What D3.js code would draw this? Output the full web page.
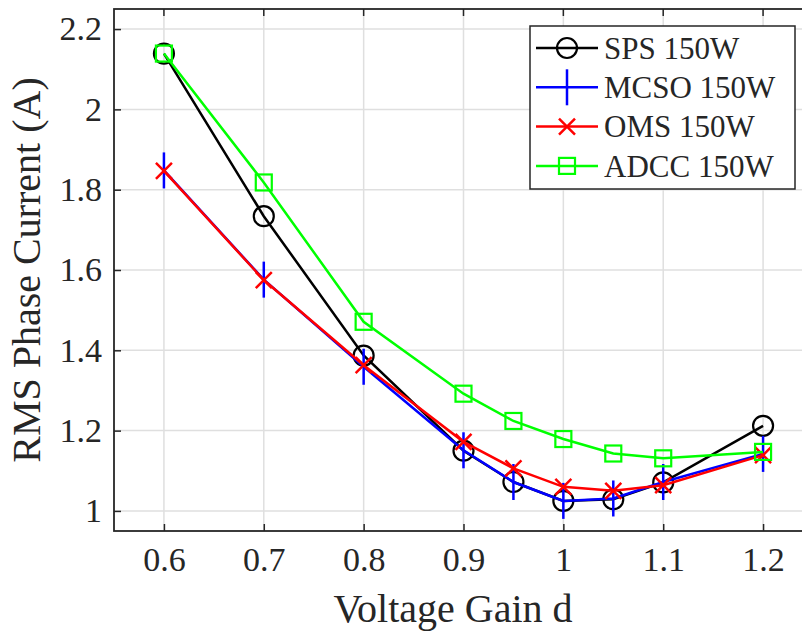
<!DOCTYPE html>
<html>
<head>
<meta charset="utf-8">
<script src="https://cdn.jsdelivr.net/npm/d3@7"></script>
<style>
  html, body { margin: 0; padding: 0; background: #fff; overflow: hidden; }
  text { font-family: "Liberation Serif", "Times New Roman", serif; fill: #262626; }
</style>
</head>
<body>
<div id="chart"></div>
<script>
// voltage gain values (x) and measured rms phase current per method
const gain = [0.6, 0.7, 0.8, 0.9, 0.95, 1.0, 1.05, 1.1, 1.2];
const sps  = [2.139, 1.734, 1.387, 1.150, 1.072, 1.025, 1.029, 1.071, 1.212];
const mcso = [1.848, 1.576, 1.359, 1.151, 1.072, 1.025, 1.031, 1.072, 1.142];
const oms  = [1.847, 1.575, 1.363, 1.172, 1.106, 1.060, 1.050, 1.064, 1.139];
const adcc = [2.139, 1.818, 1.471, 1.292, 1.224, 1.179, 1.143, 1.131, 1.147];

const xTicks = [0.6, 0.7, 0.8, 0.9, 1, 1.1, 1.2];
const yTicks = [1, 1.2, 1.4, 1.6, 1.8, 2, 2.2];

const series = [
  { name: 'SPS 150W',  vals: sps,  color: '#000000', marker: 'circle' },
  { name: 'MCSO 150W', vals: mcso, color: '#0000ff', marker: 'plus' },
  { name: 'OMS 150W',  vals: oms,  color: '#ff0000', marker: 'cross' },
  { name: 'ADCC 150W', vals: adcc, color: '#00ff00', marker: 'square' }
];

const svgWidth = 802, svgHeight = 635;
const margin = { left: 114, top: 9, right: 802 - 813, bottom: 635 - 531 };

const svg = d3.select('#chart').append('svg')
    .attr('width', svgWidth)
    .attr('height', svgHeight);

const xScale = d3.scaleLinear().domain([0.55, 1.25]).range([margin.left, svgWidth - margin.right]);
const yScale = d3.scaleLinear().domain([0.95, 2.25]).range([svgHeight - margin.bottom, margin.top]);

const x0 = xScale.range()[0], x1 = xScale.range()[1];
const y0 = yScale.range()[0], y1 = yScale.range()[1];
const axisColor = '#262626';

// grid lines
svg.append('g').selectAll('line.gx')
    .data(xTicks).enter().append('line')
    .attr('x1', d => xScale(d)).attr('x2', d => xScale(d))
    .attr('y1', y1).attr('y2', y0)
    .attr('stroke', '#dfdfdf').attr('stroke-width', 1.5);
svg.append('g').selectAll('line.gy')
    .data(yTicks).enter().append('line')
    .attr('x1', x0).attr('x2', x1)
    .attr('y1', d => yScale(d)).attr('y2', d => yScale(d))
    .attr('stroke', '#dfdfdf').attr('stroke-width', 1.5);

// axes (ticks pointing inwards like matlab)
const xAxis = d3.axisBottom(xScale).tickValues(xTicks).tickSize(-7).tickPadding(16)
    .tickFormat(d => d3.format('')(+d.toFixed(2)));
const yAxis = d3.axisLeft(yScale).tickValues(yTicks).tickSize(-7).tickPadding(12)
    .tickFormat(d => d3.format('')(+d.toFixed(2)));

const gx = svg.append('g').attr('transform', `translate(0,${y0})`).call(xAxis);
const gy = svg.append('g').attr('transform', `translate(${x0},0)`).call(yAxis);
[gx, gy].forEach(g => {
  g.select('.domain').remove();
  g.selectAll('.tick line').attr('stroke', axisColor).attr('stroke-width', 1.5);
  g.selectAll('.tick text').style('font-size', '34px')
      .style('font-family', '"Liberation Serif", serif').attr('fill', axisColor);
});
gx.selectAll('.tick text').attr('dy', '0.71em');

// top tick marks
svg.append('g').selectAll('line')
    .data(xTicks).enter().append('line')
    .attr('x1', d => xScale(d)).attr('x2', d => xScale(d))
    .attr('y1', y1).attr('y2', y1 + 7)
    .attr('stroke', axisColor).attr('stroke-width', 1.5);

// box
svg.append('rect')
    .attr('x', x0).attr('y', y1)
    .attr('width', x1 - x0).attr('height', y0 - y1)
    .attr('fill', 'none').attr('stroke', axisColor).attr('stroke-width', 1.8);

function drawMarker(g, type, cx, cy, color) {
  if (type === 'circle') {
    g.append('circle').attr('cx', cx).attr('cy', cy).attr('r', 10)
        .attr('fill', 'none').attr('stroke', color).attr('stroke-width', 2.2);
  } else if (type === 'square') {
    g.append('rect').attr('x', cx - 8).attr('y', cy - 8).attr('width', 16).attr('height', 16)
        .attr('fill', 'none').attr('stroke', color).attr('stroke-width', 2.2);
  } else if (type === 'plus') {
    g.append('path').attr('d', `M${cx},${cy - 18}V${cy + 18}M${cx - 18},${cy}H${cx + 18}`)
        .attr('stroke', color).attr('stroke-width', 2.5);
  } else if (type === 'cross') {
    g.append('path').attr('d', `M${cx - 8},${cy - 8}L${cx + 8},${cy + 8}M${cx - 8},${cy + 8}L${cx + 8},${cy - 8}`)
        .attr('stroke', color).attr('stroke-width', 2.5);
  }
}

const line = d3.line().x(d => xScale(d[0])).y(d => yScale(d[1]));

series.forEach(s => {
  const pts = gain.map((g, i) => [g, s.vals[i]]);
  const g = svg.append('g');
  g.append('path').datum(pts).attr('d', line)
      .attr('fill', 'none').attr('stroke', s.color).attr('stroke-width', 2.5);
  pts.forEach(p => {
    if (s.marker === 'plus') {
      // matlab '+' drawn with a short horizontal part hidden under the line
      g.append('path').attr('d', `M${xScale(p[0])},${yScale(p[1]) - 18}V${yScale(p[1]) + 18}`)
          .attr('stroke', s.color).attr('stroke-width', 2.5);
    } else {
      drawMarker(g, s.marker, xScale(p[0]), yScale(p[1]), s.color);
    }
  });
});

// legend
const legend = svg.append('g');
legend.append('rect')
    .attr('x', 530).attr('y', 26).attr('width', 265).attr('height', 163)
    .attr('fill', '#fff').attr('stroke', axisColor).attr('stroke-width', 1.5);
series.forEach((s, i) => {
  const ly = 48 + i * 39.3;
  legend.append('line').attr('x1', 536).attr('x2', 598).attr('y1', ly).attr('y2', ly)
      .attr('stroke', s.color).attr('stroke-width', 2.5);
  if (s.marker === 'plus') {
    legend.append('path').attr('d', `M567,${ly - 18}V${ly + 18}`)
        .attr('stroke', s.color).attr('stroke-width', 2.5);
  } else {
    drawMarker(legend, s.marker, 567, ly, s.color);
  }
  legend.append('text').attr('x', 604).attr('y', ly).attr('dy', '0.35em')
      .style('font-size', '31px').text(s.name);
});

// axis labels
svg.append('text')
    .attr('x', (x0 + 800) / 2 - 4).attr('y', 622)
    .attr('text-anchor', 'middle')
    .style('font-size', '40px')
    .text('Voltage Gain d');

svg.append('text')
    .attr('transform', `translate(40,${(y0 + y1) / 2}) rotate(-90)`)
    .attr('text-anchor', 'middle')
    .style('font-size', '40px')
    .text('RMS Phase Current (A)');
</script>
</body>
</html>
